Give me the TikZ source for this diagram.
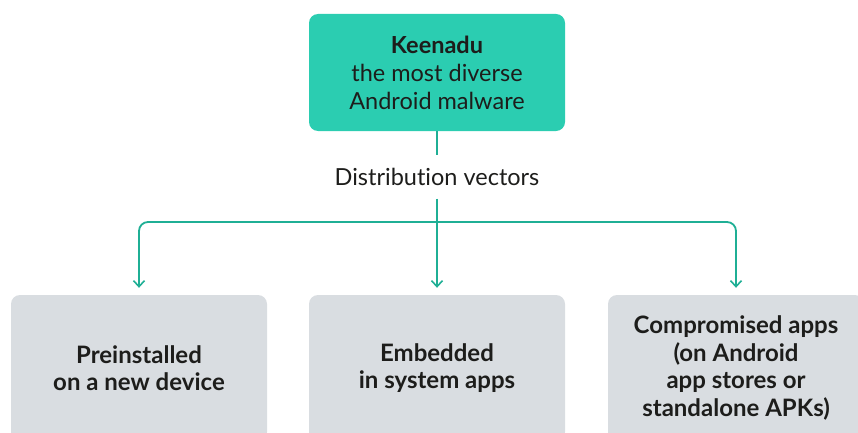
\documentclass[tikz,border=0pt]{standalone}
\usepackage{fontspec}
\setmainfont{Lato}[Ligatures={NoCommon}]
\usetikzlibrary{arrows.meta}
\definecolor{teal1}{HTML}{2BCDB1}
\definecolor{tealline}{HTML}{1FAF95}
\definecolor{boxgray}{HTML}{D9DDE1}
\definecolor{txt}{HTML}{1D1D1B}
\tikzset{
  topbox/.style={fill=teal1, rounded corners=9pt, minimum width=256pt, minimum height=117pt, inner sep=0pt, align=center, text=txt, font=\fontsize{23.5}{28}\selectfont},
  graybox/.style={fill=boxgray, rounded corners=9pt, minimum width=256pt, minimum height=146pt, inner sep=0pt, align=center, text=txt, font=\fontsize{24}{27.5}\selectfont\bfseries},
  lbl/.style={inner sep=0pt, minimum height=43pt, text=txt, font=\fontsize{23.5}{28}\selectfont},
  conn/.style={draw=tealline, line width=1.8pt},
  arr/.style={conn, -{Straight Barb[length=6pt,width=11pt,line width=1.6pt]}, shorten >=7pt}
}
\begin{document}
\begin{tikzpicture}[x=1pt,y=-1pt]
\useasboundingbox (0,0) rectangle (858,433);
\clip (0,0) rectangle (858,433);
\node[topbox] (top) at (437,72.5) {\textbf{Keenadu}\\the most diverse\\Android malware};
\node[lbl] (dv) at (437,177) {Distribution vectors};
\node[graybox] (b1) at (139,368) {Preinstalled\\on a new device};
\node[graybox] (b2) at (437,368) {Embedded\\in system apps};
\node[graybox] (b3) at (736,368) {Compromised apps\\(on Android\\app stores or\\standalone APKs)};
\coordinate (hub) at (437,222);
\draw[conn] (top.south) -- (dv.north);
\draw[arr] (dv.south) -- (b2.north);
\draw[arr, rounded corners=9pt] (hub) -| (b1.north);
\draw[arr, rounded corners=9pt] (hub) -| (b3.north);
\end{tikzpicture}
\end{document}
